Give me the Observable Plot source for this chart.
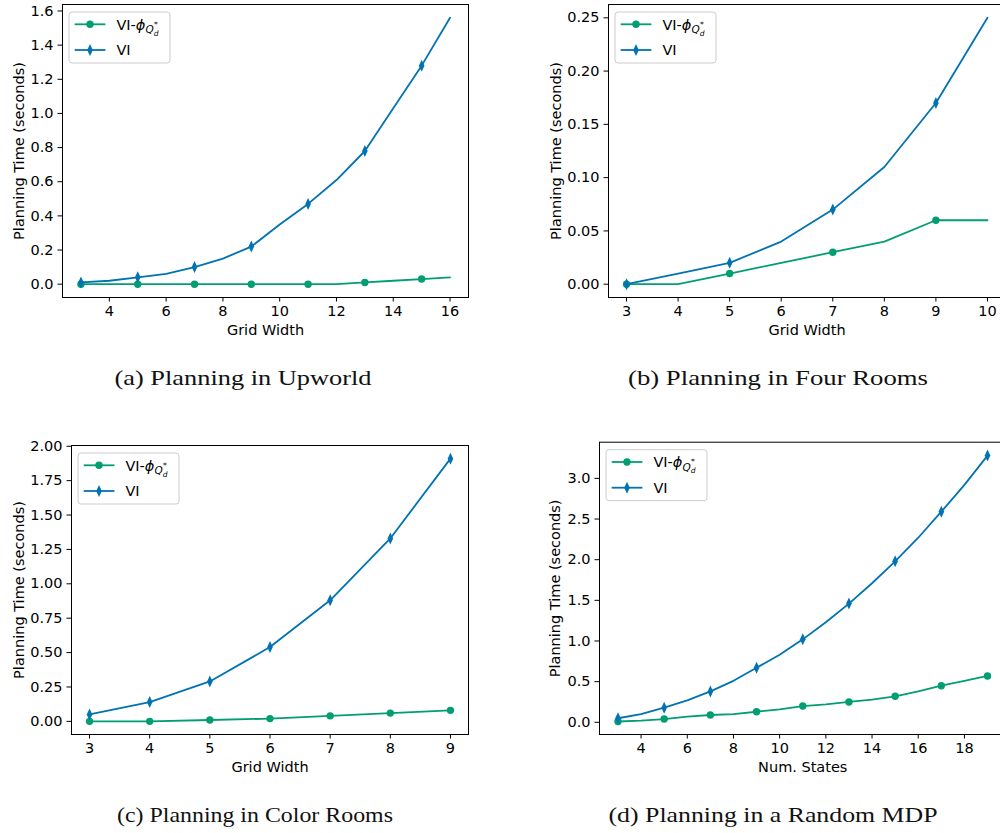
<!DOCTYPE html>
<html>
<head>
<meta charset="utf-8">
<script src="https://cdn.jsdelivr.net/npm/d3@7"></script>
<script src="https://cdn.jsdelivr.net/npm/@observablehq/plot@0.6"></script>
<style>
  html, body { margin: 0; padding: 0; background: #fff; overflow: hidden; }
  #root { position: relative; width: 1000px; height: 833px; overflow: hidden; background: #fff; }
  .panel { position: absolute; }
  #captions { position: absolute; left: 0; top: 0; pointer-events: none; }
</style>
</head>
<body>
<div id="root"></div>
<script>
// ---------------- data ----------------
const seriesNames = ["VI-ϕ", "VI"];
const captions = [
  "(a) Planning in Upworld",
  "(b) Planning in Four Rooms",
  "(c) Planning in Color Rooms",
  "(d) Planning in a Random MDP"
];
const yLabel = "Planning Time (seconds)";
const xLabels = ["Grid Width", "Grid Width", "Grid Width", "Num. States"];

// (a) Upworld
const upworldX   = [3, 4, 5, 6, 7, 8, 9, 10, 11, 12, 13, 14, 15, 16];
const upworldVI  = [0.01, 0.02, 0.04, 0.06, 0.10, 0.15, 0.22, 0.35, 0.47, 0.61, 0.78, 1.03, 1.28, 1.56];
const upworldPhi = [0, 0, 0, 0, 0, 0, 0, 0, 0, 0, 0.01, 0.02, 0.03, 0.04];
const upworldXTicks = [4, 6, 8, 10, 12, 14, 16];
const upworldYTicks = [0, 0.2, 0.4, 0.6, 0.8, 1.0, 1.2, 1.4, 1.6];

// (b) Four Rooms
const fourRoomsX   = [3, 4, 5, 6, 7, 8, 9, 10];
const fourRoomsVI  = [0, 0.01, 0.02, 0.04, 0.07, 0.11, 0.17, 0.25];
const fourRoomsPhi = [0, 0, 0.01, 0.02, 0.03, 0.04, 0.06, 0.06];
const fourRoomsXTicks = [3, 4, 5, 6, 7, 8, 9, 10];
const fourRoomsYTicks = [0, 0.05, 0.10, 0.15, 0.20, 0.25];

// (c) Color Rooms
const colorRoomsX   = [3, 4, 5, 6, 7, 8, 9];
const colorRoomsVI  = [0.05, 0.14, 0.29, 0.54, 0.88, 1.33, 1.91];
const colorRoomsPhi = [0, 0, 0.01, 0.02, 0.04, 0.06, 0.08];
const colorRoomsXTicks = [3, 4, 5, 6, 7, 8, 9];
const colorRoomsYTicks = [0, 0.25, 0.5, 0.75, 1.0, 1.25, 1.5, 1.75, 2.0];

// (d) Random MDP
const randomX   = [3, 4, 5, 6, 7, 8, 9, 10, 11, 12, 13, 14, 15, 16, 17, 18, 19];
const randomVI  = [0.05, 0.10, 0.18, 0.27, 0.38, 0.51, 0.67, 0.83, 1.02, 1.23, 1.46, 1.71, 1.98, 2.27, 2.59, 2.92, 3.28];
const randomPhi = [0.01, 0.02, 0.04, 0.07, 0.09, 0.10, 0.13, 0.16, 0.20, 0.22, 0.25, 0.28, 0.32, 0.38, 0.45, 0.51, 0.57];
const randomXTicks = [4, 6, 8, 10, 12, 14, 16, 18];
const randomYTicks = [0, 0.5, 1.0, 1.5, 2.0, 2.5, 3.0];

// ---------------- styling ----------------
const GREEN = "#029E73";
const BLUE = "#0173B2";
const FONT = "DejaVu Sans";
const FS = 14.5;

const thinDiamond = {
  draw(ctx, size) {
    const r = Math.sqrt(size / Math.PI);
    const h = r * 1.6, w = r * 0.75;
    ctx.moveTo(0, -h); ctx.lineTo(w, 0); ctx.lineTo(0, h); ctx.lineTo(-w, 0); ctx.closePath();
  }
};

const panels = [
  {x: upworldX, vi: upworldVI, phi: upworldPhi, xTicks: upworldXTicks, yTicks: upworldYTicks, yFmt: ".1f",
   xLabel: xLabels[0], left: 0, top: 0, width: 500, height: 340, ml: 62, mr: 32, mt: 4, mb: 43,
   xDomain: [2.35, 16.65], yDomain: [-0.078, 1.638], yLabelOffset: 49, markEvery: 2},
  {x: fourRoomsX, vi: fourRoomsVI, phi: fourRoomsPhi, xTicks: fourRoomsXTicks, yTicks: fourRoomsYTicks, yFmt: ".2f",
   xLabel: xLabels[1], left: 500, top: 0, width: 510, height: 340, ml: 108, mr: 5, mt: 4, mb: 43,
   xDomain: [2.65, 10.35], yDomain: [-0.0125, 0.2625], yLabelOffset: 58, markEvery: 2},
  {x: colorRoomsX, vi: colorRoomsVI, phi: colorRoomsPhi, xTicks: colorRoomsXTicks, yTicks: colorRoomsYTicks, yFmt: ".2f",
   xLabel: xLabels[2], left: 0, top: 430, width: 500, height: 350, ml: 71, mr: 32, mt: 15, mb: 46,
   xDomain: [2.7, 9.3], yDomain: [-0.0955, 2.0055], yLabelOffset: 58, markEvery: 1},
  {x: randomX, vi: randomVI, phi: randomPhi, xTicks: randomXTicks, yTicks: randomYTicks, yFmt: ".1f",
   xLabel: xLabels[3], left: 500, top: 430, width: 510, height: 350, ml: 99, mr: 4.5, mt: 11.7, mb: 46,
   xDomain: [2.2, 19.8], yDomain: [-0.15, 3.445], yLabelOffset: 50, markEvery: 2}
];

const root = document.getElementById("root");

function addLegend(svgNode, cfg) {
  const svg = d3.select(svgNode);
  const g = svg.append("g")
    .attr("transform", `translate(${cfg.ml + 7},${cfg.mt + 8})`)
    .attr("font-family", FONT).attr("font-size", FS).attr("text-anchor", "start");
  g.append("rect").attr("x", 0).attr("y", 0).attr("width", 101).attr("height", 51).attr("rx", 3)
    .attr("fill", "white").attr("fill-opacity", 0.8).attr("stroke", "#cccccc").attr("stroke-width", 1);
  const entries = [
    {name: seriesNames[0], color: GREEN, y: 12.3, sym: d3.symbol().type(d3.symbolCircle).size(Math.PI * 3.7 * 3.7)},
    {name: seriesNames[1], color: BLUE, y: 38, sym: d3.symbol().type(thinDiamond).size(Math.PI * 3.75 * 3.75)}
  ];
  entries.forEach((e, i) => {
    g.append("line").attr("x1", 5.7).attr("x2", 36.4).attr("y1", e.y).attr("y2", e.y)
      .attr("stroke", e.color).attr("stroke-width", 1.8);
    g.append("path").attr("d", e.sym()).attr("transform", `translate(21,${e.y})`).attr("fill", e.color);
    const t = g.append("text").attr("x", 47.4).attr("y", e.y + 5.3).attr("fill", "black");
    if (i === 0) {
      t.append("tspan").text("VI-");
      t.append("tspan").attr("font-style", "italic").text("ϕ");
      t.append("tspan").attr("font-style", "italic").attr("font-size", 10.5).attr("dy", 3.5).text("Q");
      t.append("tspan").attr("font-style", "italic").attr("font-size", 7.5).attr("dy", 2.5).text("d");
      t.append("tspan").attr("font-size", 7.5).attr("dx", -4.5).attr("dy", -9).text("*");
    } else {
      t.text(e.name);
    }
  });
}

panels.forEach(cfg => {
  const rows = cfg.x.map((x, i) => ({x, vi: cfg.vi[i], phi: cfg.phi[i], i}));
  const marked = rows.filter(d => d.i % cfg.markEvery === 0);
  const plot = Plot.plot({
    width: cfg.width,
    height: cfg.height,
    marginLeft: cfg.ml, marginRight: cfg.mr, marginTop: cfg.mt, marginBottom: cfg.mb,
    style: {fontFamily: FONT, fontSize: FS + "px", color: "black", background: "transparent", overflow: "visible"},
    x: {domain: cfg.xDomain},
    y: {domain: cfg.yDomain},
    marks: [
      Plot.axisX({ticks: cfg.xTicks, tickFormat: d3.format("d"), tickSize: 4.5, tickPadding: 3.5,
                  label: cfg.xLabel, labelAnchor: "center", labelOffset: 37, labelArrow: "none"}),
      Plot.axisY({ticks: cfg.yTicks, tickFormat: d3.format(cfg.yFmt), tickSize: 4.5, tickPadding: 4.5,
                  label: yLabel, labelAnchor: "center", labelOffset: cfg.yLabelOffset, labelArrow: "none"}),
      Plot.line(rows, {x: "x", y: "phi", stroke: GREEN, strokeWidth: 1.8}),
      Plot.dot(marked, {x: "x", y: "phi", fill: GREEN, r: 3.7, symbol: "circle"}),
      Plot.line(rows, {x: "x", y: "vi", stroke: BLUE, strokeWidth: 1.8}),
      Plot.dot(marked, {x: "x", y: "vi", fill: BLUE, r: 3.75, symbol: thinDiamond}),
      Plot.frame({stroke: "black", strokeWidth: 1})
    ]
  });
  plot.classList.add("panel");
  plot.style.left = cfg.left + "px";
  plot.style.top = cfg.top + "px";
  plot.style.position = "absolute";
  addLegend(plot, cfg);
  root.appendChild(plot);
});

// captions
const capPos = [
  {cx: 243, y: 385, len: 257},
  {cx: 778, y: 385, len: 300},
  {cx: 255, y: 822, len: 276},
  {cx: 773, y: 822, len: 329}
];
const capSvg = d3.select(root).append("svg").attr("id", "captions")
  .attr("width", 1000).attr("height", 833);
captions.forEach((c, i) => {
  const p = capPos[i];
  capSvg.append("text")
    .attr("x", p.cx - p.len / 2).attr("y", p.y)
    .attr("font-family", "Liberation Serif").attr("font-size", 21)
    .attr("textLength", p.len).attr("lengthAdjust", "spacingAndGlyphs")
    .attr("fill", "#111")
    .text(c);
});
</script>
</body>
</html>
